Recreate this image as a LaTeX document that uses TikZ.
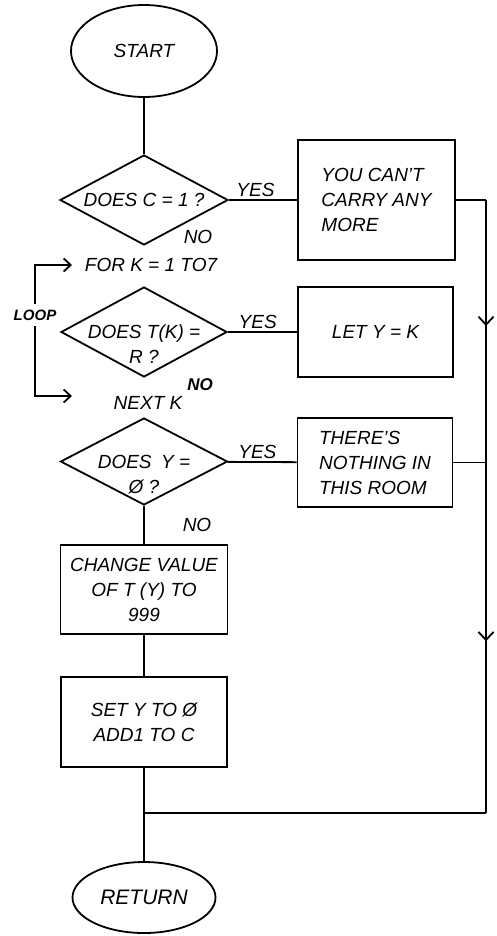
\documentclass[tikz,border=0pt]{standalone}
\usepackage{fontspec}
\setmainfont{Liberation Sans}
\usetikzlibrary{shapes.geometric, arrows.meta, decorations.markings}
\tikzset{
  term/.style={ellipse, draw, minimum width=146pt, minimum height=92pt, inner sep=0pt},
  decision/.style={diamond, draw, minimum width=168pt, minimum height=90pt, inner sep=0pt},
  box/.style={rectangle, draw, minimum width=156pt, minimum height=90pt, align=center},
  yes/.style={above, inner sep=2pt},
  note/.style={inner sep=2pt},
  flow/.style={-{Straight Barb[length=7pt, width=13pt]}},
  midflow/.style={postaction={decorate, decoration={markings,
      mark=at position #1 with {\arrow{Straight Barb[length=8pt, width=15pt]}}}}}
}
\begin{document}
\begin{tikzpicture}[x=1pt, y=-1pt, line width=1.8pt,
    font=\itshape\fontsize{19}{25}\selectfont]
  \useasboundingbox (0,0) rectangle (497,936);
  \node[term] (start) at (144,51) {START};
  \node[decision, label={[align=center]center:{DOES C = 1 ?}}] (d1) at (144,200) {};
  \node[box, minimum width=157pt, minimum height=120pt, align=left] (box1) at (376.5,200)
    {YOU CAN'T\\CARRY ANY\\MORE};
  \node[note] (no1) at (198,237) {NO};
  \node[note] (fork) at (151,265) {FOR K = 1 TO7};
  \node[decision, minimum width=166pt,
        label={[align=center, yshift=-12pt]center:{DOES T(K) =\\R ?}}] (d2) at (144,332) {};
  \node[box, minimum width=155pt] (box2) at (375.5,332) {LET Y = K};
  \node[note, font=\bfseries\itshape\fontsize{17}{20}\selectfont] (no2) at (200,385) {NO};
  \node[note] (nextk) at (148,403) {NEXT K};
  \node[note, inner sep=5pt, font=\bfseries\itshape\fontsize{15}{18}\selectfont] (loop) at (35,315) {LOOP};
  \node[decision, minimum width=167pt, minimum height=87pt,
        label={[align=center, yshift=-13pt]center:{DOES\enspace Y =\\Ø ?}}] (d3) at (144,461.5) {};
  \node[box, minimum width=155pt, minimum height=89pt, align=left] (box3) at (375,462.5)
    {THERE'S\\NOTHING IN\\THIS ROOM};
  \node[note] (no3) at (197,525) {NO};
  \node[box, minimum width=167pt, minimum height=89pt] (box4) at (144,589.5)
    {CHANGE VALUE\\OF T (Y) TO\\999};
  \node[box, minimum width=166pt] (box5) at (144,722) {SET Y TO Ø\\ADD1 TO C};
  \node[term, minimum width=143pt, minimum height=71pt,
        font=\itshape\fontsize{21}{24}\selectfont] (ret) at (144,897.5) {RETURN};

  \coordinate (forin) at (72,265);
  \coordinate (nextin) at (72,396);
  \coordinate (r1) at (486,200);
  \coordinate (r3) at (486,462.5);
  \coordinate (rb) at (486,813);
  \coordinate (join) at (144,813);

  \draw (start) -- (d1);
  \draw (d1) -- node[yes, pos=.39]{YES} (box1);
  \draw (d2) -- node[yes, pos=.43]{YES} (box2);
  \draw (d3) -- node[yes, pos=.43]{YES} (box3);
  \draw (d3) -- (box4);
  \draw (box4) -- (box5);
  \draw (box5) -- (ret);
  \draw[flow] (loop.north) |- (forin);
  \draw[flow] (loop.south) |- (nextin);
  \draw (box1) -- (r1);
  \draw[midflow=.48] (r1) -- (r3);
  \draw (box3) -- (r3);
  \draw[midflow=.51] (r3) -- (rb);
  \draw (rb) -- (join);
\end{tikzpicture}
\end{document}
